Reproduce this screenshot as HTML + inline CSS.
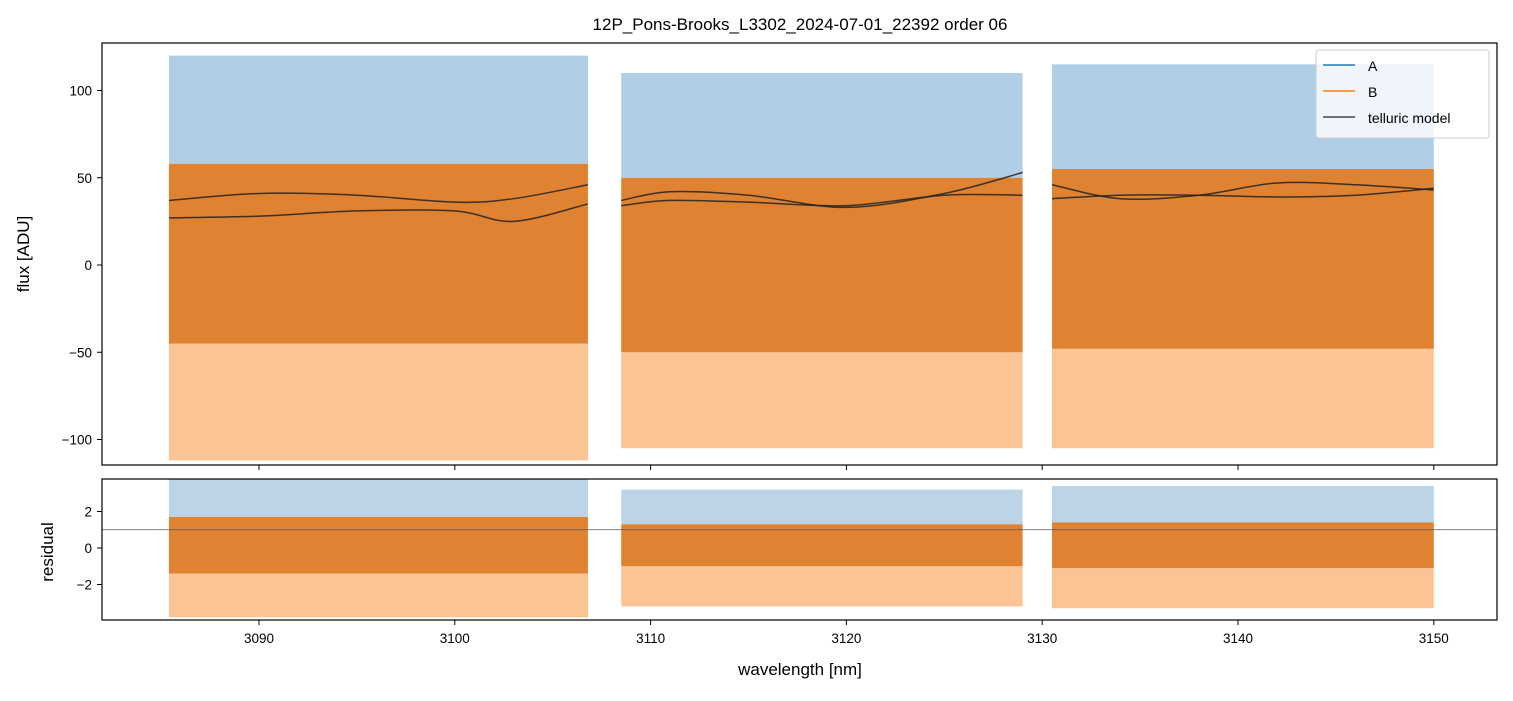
<!DOCTYPE html>
<html><head><meta charset="utf-8"><style>
body{margin:0;background:#fff;}
svg text{font-family:"Liberation Sans","DejaVu Sans",sans-serif;fill:#000;}
</style></head><body>
<svg id="chart" width="1513" height="696" viewBox="0 0 1513 696" xmlns="http://www.w3.org/2000/svg">
<defs>
<clipPath id="ct"><rect x="102" y="43" width="1395" height="422"/></clipPath>
<clipPath id="cb"><rect x="102" y="479" width="1395" height="141"/></clipPath>
</defs>
<text x="800" y="30" text-anchor="middle" font-size="17">12P_Pons-Brooks_L3302_2024-07-01_22392  order 06</text>
<g id="gtop" clip-path="url(#ct)"></g>
<g id="gbot" clip-path="url(#cb)"></g>
<g id="gaxes"></g>
<g>
<rect x="1316" y="50" width="173" height="88" rx="3" fill="#fff" fill-opacity="0.8" stroke="#ccc"/>
<line x1="1323" y1="65" x2="1355" y2="65" stroke="#1f77b4" stroke-width="1.5"/>
<text x="1368" y="71" font-size="14">A</text>
<line x1="1323" y1="91" x2="1355" y2="91" stroke="#ff7f0e" stroke-width="1.5"/>
<text x="1368" y="97" font-size="14">B</text>
<line x1="1323" y1="117" x2="1355" y2="117" stroke="#444" stroke-width="1.5"/>
<text x="1368" y="123" font-size="14">telluric model</text>
</g>
<text x="800" y="675" text-anchor="middle" font-size="17">wavelength [nm]</text>
<text transform="translate(29,254) rotate(-90)" text-anchor="middle" font-size="17">flux [ADU]</text>
<text transform="translate(53,552) rotate(-90)" text-anchor="middle" font-size="17">residual</text>
</svg>
<script>
const NS='http://www.w3.org/2000/svg';
// data
const segStart=[3085.4,3108.5,3130.5];
const segEnd=[3106.8,3129.0,3150.0];
const tellWl=[[3085.4,3090,3095,3100,3103,3106.8],[3108.5,3111,3115,3120,3125,3129],[3130.5,3134,3138,3142,3146,3150]];
const tellA=[[37,41,40,36,38,46],[37,42,40,33,41,53],[46,38,40,47,46,43]];
const tellB=[[27,28,31,31,25,35],[34,37,36,34,40,40],[38,40,40,39,40,44]];
const denseHi=[58,50,55];
const denseLo=[-45,-50,-48];
const blueHi=[120,110,115];
const orangeLo=[-112,-105,-105];
const resDenseHi=[1.7,1.3,1.4];
const resDenseLo=[-1.4,-1.0,-1.1];
const resHi=[3.8,3.2,3.4];
const resLo=[-3.8,-3.2,-3.3];
const resLine=1.0;
const xTicks=[3090,3100,3110,3120,3130,3140,3150];
const yTicks=[100,50,0,-50,-100];
const rTicks=[2,0,-2];
// scales
const X=v=>259+(v-3090)*19.58;
const Y=v=>265-v*1.745;
const R=v=>548-v*18.25;
function el(p,t,a){const e=document.createElementNS(NS,t);for(const k in a)e.setAttribute(k,a[k]);p.appendChild(e);return e;}
function smooth(pts){let d='M'+pts[0][0]+','+pts[0][1];for(let i=0;i<pts.length-1;i++){const p0=pts[Math.max(0,i-1)],p1=pts[i],p2=pts[i+1],p3=pts[Math.min(pts.length-1,i+2)];d+=' C'+(p1[0]+(p2[0]-p0[0])/6)+','+(p1[1]+(p2[1]-p0[1])/6)+' '+(p2[0]-(p3[0]-p1[0])/6)+','+(p2[1]-(p3[1]-p1[1])/6)+' '+p2[0]+','+p2[1];}return d;}
const gTop=document.getElementById('gtop'),gBot=document.getElementById('gbot'),gAx=document.getElementById('gaxes');
for(let i=0;i<3;i++){
 const x0=X(segStart[i]),x1=X(segEnd[i]);
 let r=el(gTop,'rect',{x:x0,y:Y(blueHi[i]),width:x1-x0,height:Y(denseHi[i])-Y(blueHi[i]),fill:'#4f93c6','fill-opacity':0.45});
 
 
 r=el(gTop,'rect',{x:x0,y:Y(denseLo[i]),width:x1-x0,height:Y(orangeLo[i])-Y(denseLo[i]),fill:'#f58a2c','fill-opacity':0.5});
 
 
 r=el(gTop,'rect',{x:x0,y:Y(denseHi[i]),width:x1-x0,height:Y(denseLo[i])-Y(denseHi[i]),fill:'#df8232'});
 
 
 [tellA,tellB].forEach(T=>{
  const p=el(gTop,'path',{d:smooth(tellWl[i].map((w,k)=>[X(w),Y(T[i][k])])),fill:'none',stroke:'#222','stroke-opacity':0.85,'stroke-width':1.5});
  
  
 });
 r=el(gBot,'rect',{x:x0,y:R(resHi[i]),width:x1-x0,height:R(resDenseHi[i])-R(resHi[i]),fill:'#6aa0c8','fill-opacity':0.45});
 
 
 r=el(gBot,'rect',{x:x0,y:R(resDenseLo[i]),width:x1-x0,height:R(resLo[i])-R(resDenseLo[i]),fill:'#f58a2c','fill-opacity':0.5});
 
 
 r=el(gBot,'rect',{x:x0,y:R(resDenseHi[i]),width:x1-x0,height:R(resDenseLo[i])-R(resDenseHi[i]),fill:'#df8232'});
 
 
}
let hl=el(gBot,'line',{x1:102,x2:1497,y1:R(resLine),y2:R(resLine),stroke:'#555','stroke-width':0.7});


let f=el(gAx,'rect',{x:102,y:43,width:1395,height:422,fill:'none',stroke:'#000','stroke-width':1.2});


f=el(gAx,'rect',{x:102,y:479,width:1395,height:141,fill:'none',stroke:'#000','stroke-width':1.2});


xTicks.forEach(t=>{
 el(gAx,'line',{x1:X(t),x2:X(t),y1:465,y2:470,stroke:'#000'});
 el(gAx,'line',{x1:X(t),x2:X(t),y1:620,y2:625,stroke:'#000'});
 const tx=el(gAx,'text',{x:X(t),y:643,'text-anchor':'middle','font-size':13.5});
 tx.textContent=t;
 
 
});
yTicks.forEach(t=>{
 el(gAx,'line',{x1:97,x2:102,y1:Y(t),y2:Y(t),stroke:'#000'});
 const tx=el(gAx,'text',{x:92,y:Y(t)+5,'text-anchor':'end','font-size':13.5});
 tx.textContent=t<0?'\u2212'+(-t):t;
 
 
});
rTicks.forEach(t=>{
 el(gAx,'line',{x1:97,x2:102,y1:R(t),y2:R(t),stroke:'#000'});
 const tx=el(gAx,'text',{x:92,y:R(t)+5,'text-anchor':'end','font-size':13.5});
 tx.textContent=t<0?'\u2212'+(-t):t;
 
 
});
</script>
</body></html>
